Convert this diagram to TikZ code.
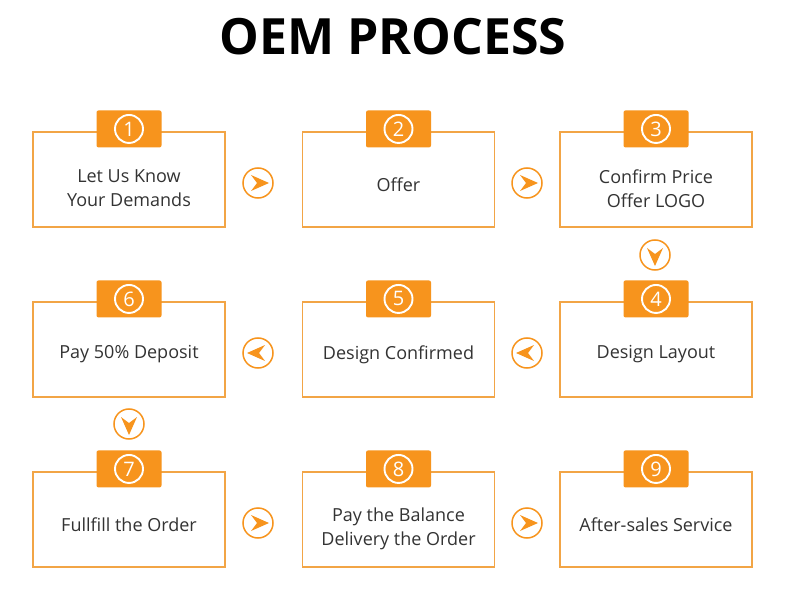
\documentclass[tikz,border=0pt]{standalone}
\usepackage{fontspec}
\setmainfont{Open Sans}
\definecolor{badgeorange}{RGB}{247,148,29}
\definecolor{boxline}{RGB}{242,165,70}
\definecolor{textgray}{RGB}{51,51,51}

\begin{document}
\begin{tikzpicture}[x=1pt, y=-1pt,
        stepbox/.style={draw=boxline, line width=1.1pt, rectangle, minimum width=192pt, minimum height=95pt, inner sep=0pt},
        steptext/.style={text=textgray, font=\fontsize{18}{24}\selectfont, align=center},
        badge/.style={fill=badgeorange, rounded corners=2pt, minimum width=65pt, minimum height=37pt, inner sep=0pt},
        digit/.style={circle, draw=white, line width=1.9pt, minimum size=28pt, inner sep=0pt, text=white, font=\fontsize{20}{20}\selectfont},
        nav/.pic={
            \draw[badgeorange, line width=1.5pt] (0,0) circle (15);
            \fill[badgeorange] (-11,0) -- (7,-8) -- (1,0) -- (7,8) -- cycle;
        }]
        \useasboundingbox[fill=white] (0,0) rectangle (790,596);

        % Title
        \node (title) at (393,36.5) {\fontsize{50}{50}\selectfont\bfseries OEM PROCESS};

        % Step boxes
        \node[stepbox] (b1) at (129,179.5) {};
        \node[stepbox] (b2) at (398.5,179.5) {};
        \node[stepbox] (b3) at (656,179.5) {};
        \node[stepbox] (b4) at (656,349.5) {};
        \node[stepbox] (b5) at (398.5,349.5) {};
        \node[stepbox] (b6) at (129,349.5) {};
        \node[stepbox] (b7) at (129,519.5) {};
        \node[stepbox] (b8) at (398.5,519.5) {};
        \node[stepbox] (b9) at (656,519.5) {};

        % Step texts
        \node[steptext] (t1) at ([yshift=-9pt]b1.center) {Let Us Know\\Your Demands};
        \node[steptext] (t2) at ([yshift=-5pt]b2.center) {Offer};
        \node[steptext] (t3) at ([yshift=-9pt]b3.center) {Confirm Price\\Offer LOGO};
        \node[steptext] (t4) at ([yshift=-5pt]b4.center) {Design Layout};
        \node[steptext] (t5) at ([yshift=-5pt]b5.center) {Design Confirmed};
        \node[steptext] (t6) at ([yshift=-5pt]b6.center) {Pay 50\% Deposit};
        \node[steptext] (t7) at ([yshift=-5pt]b7.center) {Fullfill the Order};
        \node[steptext] (t8) at ([yshift=-9pt]b8.center) {Pay the Balance\\Delivery the Order};
        \node[steptext] (t9) at ([yshift=-5pt]b9.center) {After-sales Service};

        % Number badges
        \node[badge] (n1) at ([yshift=2.5pt]b1.north) {};
        \node[badge] (n2) at ([yshift=2.5pt]b2.north) {};
        \node[badge] (n3) at ([yshift=2.5pt]b3.north) {};
        \node[badge] (n4) at ([yshift=2.5pt]b4.north) {};
        \node[badge] (n5) at ([yshift=2.5pt]b5.north) {};
        \node[badge] (n6) at ([yshift=2.5pt]b6.north) {};
        \node[badge] (n7) at ([yshift=2.5pt]b7.north) {};
        \node[badge] (n8) at ([yshift=2.5pt]b8.north) {};
        \node[badge] (n9) at ([yshift=2.5pt]b9.north) {};
        \node[digit] (d1) at (n1) {1};
        \node[digit] (d2) at (n2) {2};
        \node[digit] (d3) at (n3) {3};
        \node[digit] (d4) at (n4) {4};
        \node[digit] (d5) at (n5) {5};
        \node[digit] (d6) at (n6) {6};
        \node[digit] (d7) at (n7) {7};
        \node[digit] (d8) at (n8) {8};
        \node[digit] (d9) at (n9) {9};

        % Arrows between steps
        \pic[rotate=180] at (258,183) {nav};
        \pic[rotate=180] at (527,183) {nav};
        \pic[rotate=90] at (655,255) {nav};
        \pic at (527,353) {nav};
        \pic at (258,353) {nav};
        \pic[rotate=90] at (129,424) {nav};
        \pic[rotate=180] at (258,523) {nav};
        \pic[rotate=180] at (527,523) {nav};
    \end{tikzpicture}
\end{document}
